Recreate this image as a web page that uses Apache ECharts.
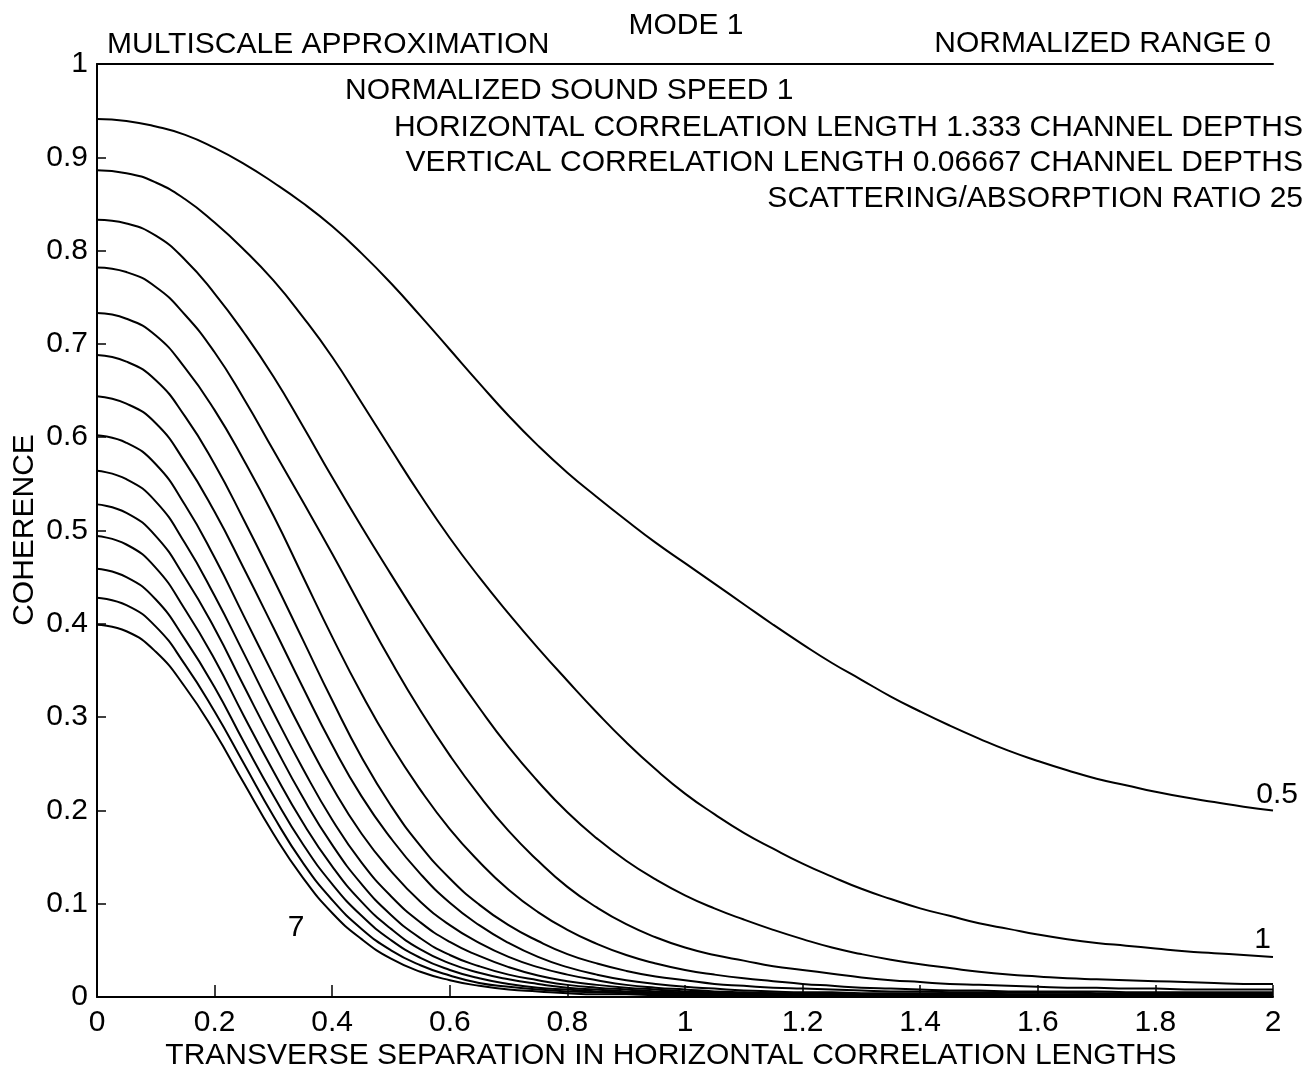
<!DOCTYPE html>
<html>
<head>
<meta charset="utf-8">
<script src="https://cdn.jsdelivr.net/npm/echarts@6/dist/echarts.min.js"></script>
<style>
  html, body { margin: 0; padding: 0; background: #fff; }
  #chart { width: 1315px; height: 1074px; }
</style>
</head>
<body>
<div id="chart"></div>
<script>
// 横向间距 (水平相关长度), 步长 0.05
const xs = [0, 0.05, 0.1, 0.15, 0.2, 0.25, 0.3, 0.35, 0.4, 0.45,
            0.5, 0.55, 0.6, 0.65, 0.7, 0.75, 0.8, 0.85, 0.9, 0.95,
            1.0,
            1.05, 1.1, 1.15, 1.2, 1.25, 1.3, 1.35, 1.4, 1.45, 1.5,
            1.55, 1.6, 1.65, 1.7, 1.75, 1.8, 1.85, 1.9, 1.95, 2.0];

// 每条曲线的相干值，从图上读出 (曲线参数 0.5 ... 7)
const c05 = [0.941, 0.939, 0.933, 0.924, 0.910, 0.893, 0.873, 0.851, 0.826, 0.797,
             0.765, 0.730, 0.694, 0.658, 0.623, 0.591, 0.562, 0.536, 0.511, 0.487,
             0.465,
             0.443, 0.421, 0.399, 0.378, 0.358, 0.340, 0.322, 0.306, 0.291, 0.277,
             0.264, 0.253, 0.243, 0.234, 0.227, 0.220, 0.214, 0.209, 0.204, 0.200];
const c10 = [0.886, 0.883, 0.873, 0.855, 0.830, 0.801, 0.768, 0.729, 0.686, 0.637,
             0.587, 0.538, 0.492, 0.450, 0.411, 0.374, 0.339, 0.305, 0.273, 0.244,
             0.218,
             0.196, 0.176, 0.159, 0.143, 0.129, 0.116, 0.105, 0.095, 0.087, 0.079,
             0.073, 0.067, 0.062, 0.058, 0.055, 0.052, 0.049, 0.047, 0.045, 0.043];
const c15 = [0.833, 0.829, 0.816, 0.790, 0.754, 0.712, 0.665, 0.612, 0.557, 0.504,
             0.453, 0.403, 0.355, 0.310, 0.268, 0.231, 0.198, 0.170, 0.146, 0.126,
             0.109,
             0.095, 0.083, 0.072, 0.062, 0.053, 0.046, 0.040, 0.035, 0.031, 0.027,
             0.024, 0.022, 0.020, 0.019, 0.018, 0.017, 0.016, 0.015, 0.014, 0.014];
const c20 = [0.782, 0.777, 0.761, 0.731, 0.691, 0.641, 0.586, 0.531, 0.475, 0.417,
             0.360, 0.307, 0.259, 0.216, 0.178, 0.146, 0.118, 0.096, 0.078, 0.064,
             0.053,
             0.045, 0.039, 0.033, 0.029, 0.025, 0.021, 0.018, 0.016, 0.014, 0.013,
             0.012, 0.011, 0.010, 0.010, 0.009, 0.009, 0.008, 0.008, 0.008, 0.008];
const c25 = [0.733, 0.727, 0.709, 0.674, 0.629, 0.575, 0.516, 0.451, 0.386, 0.325,
             0.270, 0.222, 0.180, 0.145, 0.115, 0.091, 0.072, 0.057, 0.045, 0.036,
             0.029,
             0.024, 0.020, 0.017, 0.014, 0.012, 0.010, 0.009, 0.008, 0.007, 0.007,
             0.006, 0.006, 0.006, 0.006, 0.005, 0.005, 0.005, 0.005, 0.005, 0.005];
const c30 = [0.688, 0.681, 0.661, 0.622, 0.571, 0.511, 0.448, 0.383, 0.318, 0.257,
             0.205, 0.162, 0.127, 0.099, 0.077, 0.060, 0.046, 0.036, 0.028, 0.022,
             0.018,
             0.014, 0.012, 0.010, 0.009, 0.008, 0.007, 0.006, 0.006, 0.005, 0.005,
             0.005, 0.005, 0.005, 0.004, 0.004, 0.004, 0.004, 0.004, 0.004, 0.004];
const c35 = [0.644, 0.636, 0.615, 0.573, 0.520, 0.459, 0.396, 0.332, 0.270, 0.215,
             0.170, 0.132, 0.101, 0.077, 0.058, 0.043, 0.032, 0.024, 0.018, 0.014,
             0.011,
             0.009, 0.007, 0.006, 0.005, 0.005, 0.004, 0.004, 0.004, 0.004, 0.004,
             0.003, 0.003, 0.003, 0.003, 0.003, 0.003, 0.003, 0.003, 0.003, 0.003];
const c40 = [0.602, 0.594, 0.571, 0.527, 0.471, 0.408, 0.345, 0.283, 0.225, 0.175,
             0.135, 0.102, 0.077, 0.058, 0.043, 0.032, 0.024, 0.018, 0.013, 0.010,
             0.008,
             0.006, 0.005, 0.004, 0.004, 0.004, 0.003, 0.003, 0.003, 0.003, 0.003,
             0.003, 0.003, 0.003, 0.003, 0.003, 0.003, 0.003, 0.003, 0.003, 0.003];
const c45 = [0.564, 0.555, 0.531, 0.486, 0.430, 0.368, 0.305, 0.245, 0.190, 0.144,
             0.108, 0.080, 0.059, 0.044, 0.032, 0.023, 0.017, 0.013, 0.010, 0.008,
             0.006,
             0.005, 0.004, 0.004, 0.003, 0.003, 0.003, 0.003, 0.003, 0.002, 0.002,
             0.002, 0.002, 0.002, 0.002, 0.002, 0.002, 0.002, 0.002, 0.002, 0.002];
const c50 = [0.528, 0.519, 0.494, 0.449, 0.395, 0.333, 0.272, 0.214, 0.163, 0.121,
             0.088, 0.063, 0.045, 0.033, 0.024, 0.018, 0.013, 0.010, 0.008, 0.006,
             0.005,
             0.004, 0.003, 0.003, 0.003, 0.002, 0.002, 0.002, 0.002, 0.002, 0.002,
             0.002, 0.002, 0.002, 0.002, 0.002, 0.002, 0.002, 0.002, 0.002, 0.002];
const c55 = [0.494, 0.485, 0.460, 0.415, 0.362, 0.301, 0.242, 0.187, 0.140, 0.102,
             0.073, 0.051, 0.036, 0.026, 0.019, 0.014, 0.010, 0.008, 0.006, 0.005,
             0.004,
             0.003, 0.003, 0.002, 0.002, 0.002, 0.002, 0.002, 0.002, 0.002, 0.002,
             0.002, 0.002, 0.002, 0.002, 0.002, 0.002, 0.002, 0.002, 0.002, 0.002];
const c60 = [0.459, 0.450, 0.426, 0.383, 0.332, 0.273, 0.216, 0.164, 0.121, 0.087,
             0.061, 0.042, 0.029, 0.020, 0.014, 0.010, 0.008, 0.006, 0.005, 0.004,
             0.003,
             0.003, 0.002, 0.002, 0.002, 0.002, 0.002, 0.002, 0.002, 0.002, 0.002,
             0.002, 0.002, 0.002, 0.002, 0.002, 0.002, 0.002, 0.002, 0.002, 0.002];
const c65 = [0.428, 0.420, 0.397, 0.356, 0.306, 0.250, 0.194, 0.144, 0.104, 0.073,
             0.050, 0.034, 0.023, 0.015, 0.011, 0.008, 0.006, 0.005, 0.004, 0.003,
             0.003,
             0.002, 0.002, 0.002, 0.002, 0.002, 0.002, 0.002, 0.002, 0.002, 0.002,
             0.002, 0.002, 0.002, 0.002, 0.002, 0.002, 0.002, 0.002, 0.002, 0.002];
const c70 = [0.399, 0.392, 0.370, 0.332, 0.284, 0.229, 0.175, 0.128, 0.090, 0.062,
             0.041, 0.027, 0.018, 0.012, 0.008, 0.006, 0.004, 0.003, 0.003, 0.002,
             0.002,
             0.002, 0.002, 0.002, 0.002, 0.002, 0.002, 0.002, 0.002, 0.002, 0.002,
             0.002, 0.002, 0.002, 0.002, 0.002, 0.002, 0.002, 0.002, 0.002, 0.002];

const curveNames = ['0.5', '1', '1.5', '2', '2.5', '3', '3.5', '4', '4.5', '5', '5.5', '6', '6.5', '7'];
const curveValues = [c05, c10, c15, c20, c25, c30, c35, c40, c45, c50, c55, c60, c65, c70];

const FONT = '"Liberation Sans", Arial, Helvetica, sans-serif';

const chart = echarts.init(document.getElementById('chart'));

function txt(text, x, y, align, size, rotation) {
    return {
        type: 'text',
        x: x,
        y: y,
        rotation: rotation || 0,
        style: {
            text: text,
            fill: '#000',
            font: (size || 30) + 'px ' + FONT,
            textAlign: align || 'left',
            textVerticalAlign: 'middle'
        }
    };
}

const series = curveValues.map((vals, i) => ({
    name: curveNames[i],
    type: 'line',
    data: xs.map((x, j) => [x, vals[j]]),
    smooth: 0.5,
    showSymbol: false,
    silent: true,
    lineStyle: { color: '#000', width: 2 },
    z: 3
}));

const option = {
    backgroundColor: '#fff',
    animation: false,
    grid: { left: 97, right: 42, top: 64, bottom: 77 },
    xAxis: [{
        type: 'value',
        min: 0,
        max: 2,
        interval: 0.2,
        axisLine: { lineStyle: { color: '#000', width: 2 } },
        axisTick: { inside: true, length: 12, lineStyle: { color: '#000', width: 1.5 } },
        axisLabel: { color: '#000', fontSize: 30, fontFamily: FONT, margin: 11 },
        splitLine: { show: false }
    }, {
        type: 'value',
        position: 'top',
        min: 0,
        max: 2,
        axisLine: { show: true, onZero: false, lineStyle: { color: '#000', width: 2 } },
        axisTick: { show: false },
        axisLabel: { show: false },
        splitLine: { show: false }
    }],
    yAxis: {
        type: 'value',
        min: 0,
        max: 1,
        interval: 0.1,
        axisLine: { show: true, lineStyle: { color: '#000', width: 2 } },
        axisTick: { show: true, inside: true, length: 9, lineStyle: { color: '#000', width: 1.5 } },
        axisLabel: { color: '#000', fontSize: 30, fontFamily: FONT, margin: 9 },
        splitLine: { show: false }
    },
    series: series,
    graphic: [
        txt('MODE 1', 686, 26, 'center'),
        txt('MULTISCALE APPROXIMATION', 107, 45, 'left'),
        txt('NORMALIZED RANGE 0', 1271, 44, 'right'),
        txt('NORMALIZED SOUND SPEED 1', 345, 91, 'left'),
        txt('HORIZONTAL CORRELATION LENGTH 1.333 CHANNEL DEPTHS', 1303, 128, 'right'),
        txt('VERTICAL CORRELATION LENGTH 0.06667 CHANNEL DEPTHS', 1303, 163, 'right'),
        txt('SCATTERING/ABSORPTION RATIO 25', 1303, 199, 'right'),
        txt('0.5', 1298, 795, 'right'),
        txt('1', 1271, 940, 'right'),
        txt('7', 296, 928, 'center'),
        txt('COHERENCE', 25, 530, 'center', 30, Math.PI / 2),
        txt('TRANSVERSE SEPARATION IN HORIZONTAL CORRELATION LENGTHS', 671, 1056, 'center')
    ]
};

chart.setOption(option);
</script>
</body>
</html>
